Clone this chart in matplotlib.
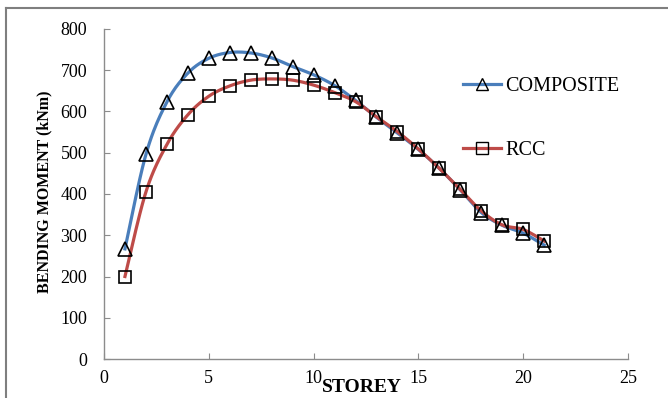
import numpy as np
import matplotlib
matplotlib.use("Agg")
import matplotlib.pyplot as plt
from matplotlib.lines import Line2D

# data
storey = [1, 2, 3, 4, 5, 6, 7, 8, 9, 10, 11, 12, 13, 14, 15, 16, 17, 18, 19, 20, 21]
composite = [267, 496, 623, 693, 729, 743, 742, 730, 709, 689, 663, 627, 586, 548, 508, 462, 410, 355, 324, 305, 276]
rcc = [200, 405, 520, 592, 637, 662, 676, 679, 676, 664, 646, 624, 587, 551, 509, 462, 411, 359, 325, 314, 286]

blue = "#4A7EBB"
red = "#BE4B48"
grey = "#8C8C8C"


def smooth(x, y, n=20):
    # Excel-style smoothed line (Catmull-Rom as cubic Bezier)
    x = np.asarray(x, float)
    y = np.asarray(y, float)
    px = np.concatenate([[x[0]], x, [x[-1]]])
    py = np.concatenate([[y[0]], y, [y[-1]]])
    t = np.linspace(0, 1, n)[:, None]
    xs, ys = [], []
    for i in range(1, len(px) - 2):
        p0 = np.array([px[i], py[i]])
        p3 = np.array([px[i + 1], py[i + 1]])
        c1 = p0 + (np.array([px[i + 1], py[i + 1]]) - np.array([px[i - 1], py[i - 1]])) / 6
        c2 = p3 - (np.array([px[i + 2], py[i + 2]]) - p0) / 6
        b = ((1 - t) ** 3) * p0 + 3 * ((1 - t) ** 2) * t * c1 + 3 * (1 - t) * t ** 2 * c2 + t ** 3 * p3
        xs.append(b[:, 0])
        ys.append(b[:, 1])
    return np.concatenate(xs), np.concatenate(ys)


plt.rcParams["font.family"] = ["Liberation Serif", "DejaVu Serif"]

fig = plt.figure(figsize=(6.68, 3.98), dpi=100)
ax = fig.add_axes([104 / 668, 1 - 359 / 398, 524 / 668, 330 / 398])

sx, sy = smooth(storey, composite)
ax.plot(sx, sy, color=blue, lw=2.3, zorder=2)
ax.plot(storey, composite, ls="none", marker="^", ms=9.5, mfc="none", mec="black", mew=1.2, zorder=3)

sx, sy = smooth(storey, rcc)
ax.plot(sx, sy, color=red, lw=2.3, zorder=2)
ax.plot(storey, rcc, ls="none", marker="s", ms=8, mfc="none", mec="black", mew=1.2, zorder=3)

ax.set_xlim(0, 25)
ax.set_ylim(0, 800)
ax.set_xticks(range(0, 26, 5))
ax.set_yticks(range(0, 801, 100))

for s in ["top", "right"]:
    ax.spines[s].set_visible(False)
for s in ["left", "bottom"]:
    ax.spines[s].set_color(grey)
    ax.spines[s].set_linewidth(1.0)
ax.tick_params(axis="both", direction="in", length=4, color=grey, labelsize=13)
ax.tick_params(axis="y", pad=12)
ax.tick_params(axis="x", pad=8)

fig.text(44 / 668, 1 - 192 / 398, "BENDING MOMENT (kNm)", rotation=90,
         ha="center", va="center", fontsize=11.5, fontweight="bold")
fig.text(362 / 668, 1 - 387 / 398, "STOREY", ha="center", va="center",
         fontsize=14, fontweight="bold")

handles = [
    Line2D([], [], color=blue, lw=2.3, marker="^", ms=9, mfc="none", mec="black", mew=1.0),
    Line2D([], [], color=red, lw=2.3, marker="s", ms=8, mfc="none", mec="black", mew=1.0),
]
ax.legend(handles, ["COMPOSITE", "RCC"], loc="center left",
          bbox_to_anchor=(463 / 668, 1 - 118.5 / 398), bbox_transform=fig.transFigure,
          frameon=False, fontsize=14.5, numpoints=1, handlelength=1.9,
          handletextpad=0.2, labelspacing=2.2, borderpad=0, borderaxespad=0)

# outer frame (top and left edges visible)
fig.add_artist(Line2D([6 / 668, 6 / 668], [0, 1 - 8 / 398], transform=fig.transFigure, color="#7F7F7F", lw=1.5))
fig.add_artist(Line2D([6 / 668, 1], [1 - 8 / 398, 1 - 8 / 398], transform=fig.transFigure, color="#7F7F7F", lw=1.5))

fig.savefig("out.png", dpi=100)
